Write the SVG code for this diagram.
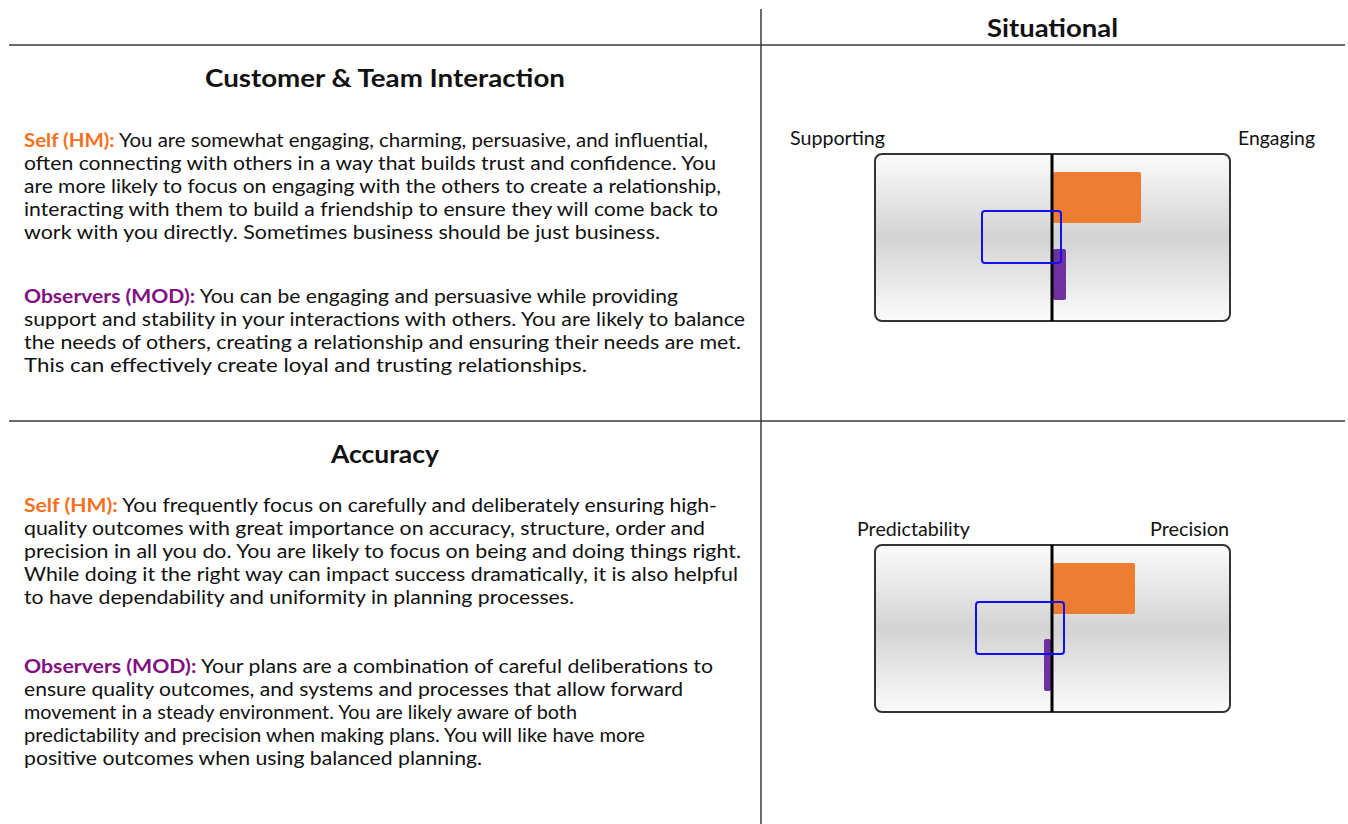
<svg xmlns="http://www.w3.org/2000/svg" width="1348" height="824" viewBox="0 0 1348 824">
<defs>
<linearGradient id="bg" x1="0" y1="0" x2="0" y2="1">
<stop offset="0" stop-color="#fbfbfb"/>
<stop offset="0.5" stop-color="#d3d3d3"/>
<stop offset="1" stop-color="#fbfbfb"/>
</linearGradient>
</defs>
<style>
text{font-family:Lato,"Open Sans","Liberation Sans",sans-serif;fill:#111}
.b{font-size:19.5px}
.t{font-size:25px;font-weight:bold}
.lbl{font-size:19px}
.self{fill:#f7701d;font-weight:bold}
.obs{fill:#80107f;font-weight:bold}
.grid{stroke:#3a3a3a;stroke-width:1.5;fill:none}
.box{fill:url(#bg);stroke:#333;stroke-width:2}
.axis{stroke:#000;stroke-width:3}
.or{fill:#ed7d31}
.pu{fill:#7030a0}
.bl{fill:none;stroke:#1010f0;stroke-width:2}
</style>
<rect width="1348" height="824" fill="#fff"/>
<g id="grid">
<line class="grid" x1="9" y1="45" x2="1345" y2="45"/>
<line class="grid" x1="9" y1="421" x2="1345" y2="421"/>
<line class="grid" x1="761" y1="9" x2="761" y2="824"/>
</g>
<g id="header">
<text class="t" x="987" y="37" textLength="131" lengthAdjust="spacingAndGlyphs">Situational</text>
</g>
<g id="customer-text">
<text class="t" x="205" y="87" textLength="360" lengthAdjust="spacingAndGlyphs">Customer &amp; Team Interaction</text>
<text class="b" x="24" y="147" textLength="684" lengthAdjust="spacingAndGlyphs"><tspan class="self">Self (HM):</tspan> You are somewhat engaging, charming, persuasive, and influential,</text>
<text class="b" x="24" y="170" textLength="692" lengthAdjust="spacingAndGlyphs">often connecting with others in a way that builds trust and confidence. You</text>
<text class="b" x="24" y="193" textLength="697" lengthAdjust="spacingAndGlyphs">are more likely to focus on engaging with the others to create a relationship,</text>
<text class="b" x="24" y="216" textLength="694" lengthAdjust="spacingAndGlyphs">interacting with them to build a friendship to ensure they will come back to</text>
<text class="b" x="24" y="239" textLength="636" lengthAdjust="spacingAndGlyphs">work with you directly. Sometimes business should be just business.</text>
<text class="b" x="24" y="303" textLength="654" lengthAdjust="spacingAndGlyphs"><tspan class="obs">Observers (MOD):</tspan> You can be engaging and persuasive while providing</text>
<text class="b" x="24" y="326" textLength="721" lengthAdjust="spacingAndGlyphs">support and stability in your interactions with others. You are likely to balance</text>
<text class="b" x="24" y="349" textLength="717" lengthAdjust="spacingAndGlyphs">the needs of others, creating a relationship and ensuring their needs are met.</text>
<text class="b" x="24" y="372" textLength="563" lengthAdjust="spacingAndGlyphs">This can effectively create loyal and trusting relationships.</text>
</g>
<g id="accuracy-text">
<text class="t" x="331" y="463" textLength="108" lengthAdjust="spacingAndGlyphs">Accuracy</text>
<text class="b" x="24" y="512" textLength="693" lengthAdjust="spacingAndGlyphs"><tspan class="self">Self (HM):</tspan> You frequently focus on carefully and deliberately ensuring high-</text>
<text class="b" x="24" y="535" textLength="681" lengthAdjust="spacingAndGlyphs">quality outcomes with great importance on accuracy, structure, order and</text>
<text class="b" x="24" y="558" textLength="717" lengthAdjust="spacingAndGlyphs">precision in all you do. You are likely to focus on being and doing things right.</text>
<text class="b" x="24" y="581" textLength="714" lengthAdjust="spacingAndGlyphs">While doing it the right way can impact success dramatically, it is also helpful</text>
<text class="b" x="24" y="604" textLength="550" lengthAdjust="spacingAndGlyphs">to have dependability and uniformity in planning processes.</text>
<text class="b" x="24" y="673" textLength="689" lengthAdjust="spacingAndGlyphs"><tspan class="obs">Observers (MOD):</tspan> Your plans are a combination of careful deliberations to</text>
<text class="b" x="24" y="696" textLength="659" lengthAdjust="spacingAndGlyphs">ensure quality outcomes, and systems and processes that allow forward</text>
<text class="b" x="24" y="719" textLength="553" lengthAdjust="spacingAndGlyphs">movement in a steady environment. You are likely aware of both</text>
<text class="b" x="24" y="742" textLength="621" lengthAdjust="spacingAndGlyphs">predictability and precision when making plans. You will like have more</text>
<text class="b" x="24" y="765" textLength="458" lengthAdjust="spacingAndGlyphs">positive outcomes when using balanced planning.</text>
</g>
<g id="chart-customer">
<text class="lbl" x="790" y="145" textLength="95" lengthAdjust="spacingAndGlyphs">Supporting</text>
<text class="lbl" x="1238" y="145" textLength="77" lengthAdjust="spacingAndGlyphs">Engaging</text>
<rect class="box" x="875" y="154" width="355" height="167" rx="7"/>
<rect class="or" x="1053" y="172" width="88" height="51" rx="2"/>
<rect class="pu" x="1053" y="249" width="13" height="51" rx="2"/>
<line class="axis" x1="1052" y1="154" x2="1052" y2="321"/>
<rect class="bl" x="982" y="211" width="79" height="52" rx="3"/>
</g>
<g id="chart-accuracy">
<text class="lbl" x="857" y="536" textLength="113" lengthAdjust="spacingAndGlyphs">Predictability</text>
<text class="lbl" x="1150" y="536" textLength="79" lengthAdjust="spacingAndGlyphs">Precision</text>
<rect class="box" x="875" y="545" width="355" height="167" rx="7"/>
<rect class="or" x="1053" y="563" width="82" height="51" rx="2"/>
<rect class="pu" x="1044" y="639" width="7" height="52" rx="2"/>
<line class="axis" x1="1052" y1="545" x2="1052" y2="712"/>
<rect class="bl" x="976" y="602" width="88" height="52" rx="3"/>
</g>
</svg>
